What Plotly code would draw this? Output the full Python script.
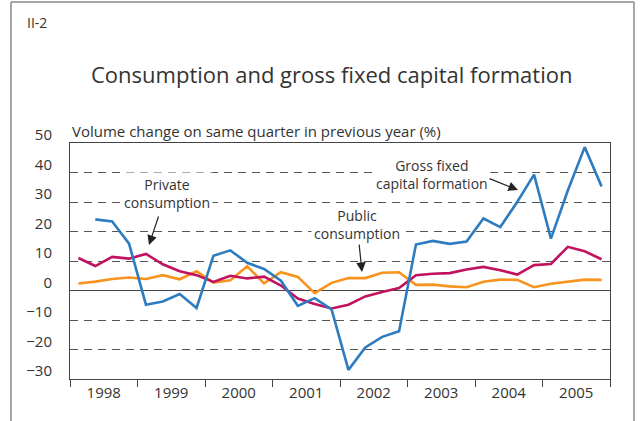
import plotly.graph_objects as go

years = [1998, 1999, 2000, 2001, 2002, 2003, 2004, 2005]
quarters = [f"{y}Q{q}" for y in years for q in range(1, 5)]

gross_fixed = [
    None, 24.1, 23.4, 15.9,
    -4.8, -3.7, -1.2, -5.9,
    11.8, 13.6, 9.4, 7.3,
    3.3, -5.2, -2.6, -6.4,
    -26.9, -19.3, -15.7, -13.8,
    15.6, 16.8, 15.8, 16.6,
    24.4, 21.5, 30.0, 39.3,
    17.6, 33.9, 48.6, 35.3,
]
private = [
    11.0, 8.3, 11.4, 10.8,
    12.4, 8.9, 6.5, 5.2,
    2.9, 5.0, 4.1, 4.7,
    1.7, -2.7, -4.6, -6.1,
    -4.8, -2.0, -0.5, 0.8,
    5.2, 5.7, 5.9, 7.1,
    8.0, 6.9, 5.4, 8.6,
    9.0, 14.8, 13.3, 10.6,
]
public = [
    2.4, 3.0, 3.9, 4.4,
    3.9, 5.2, 3.8, 6.5,
    2.7, 3.5, 8.2, 2.4,
    6.2, 4.6, -0.9, 2.6,
    4.2, 4.2, 6.0, 6.2,
    1.9, 2.0, 1.4, 1.1,
    3.0, 3.7, 3.6, 1.1,
    2.3, 3.0, 3.7, 3.6,
]
y_ticks = [-30, -20, -10, 0, 10, 20, 30, 40, 50]


def quarter_pos(label):
    y, q = label.split("Q")
    return int(y) + (int(q) - 0.5) / 4


x = [quarter_pos(q) for q in quarters]

W, H = 640, 421
L, R, T, B = 70, 30, 143, 42


def px_x(p):
    return (p - L) / (W - L - R)


def px_y(p):
    return 1 - (p - T) / (H - T - B)


FONT = "Open Sans"
INK = "#333333"

fig = go.Figure()
fig.add_trace(go.Scatter(x=x, y=public, mode="lines", line=dict(color="#f7931e", width=2.6)))
fig.add_trace(go.Scatter(x=x, y=private, mode="lines", line=dict(color="#c0125e", width=2.6)))
fig.add_trace(go.Scatter(x=x, y=gross_fixed, mode="lines", line=dict(color="#2e7cc0", width=2.6)))

fig.update_layout(
    width=W, height=H,
    margin=dict(l=L, r=R, t=T, b=B),
    paper_bgcolor="white", plot_bgcolor="white",
    showlegend=False,
    font=dict(family=FONT, size=15, color=INK),
)
fig.update_xaxes(
    range=[1998, 2006], automargin=False,
    tickvals=[y + 0.5 for y in years], ticktext=[str(y) for y in years],
    ticks="", showgrid=False,
    showline=True, linecolor="#444", linewidth=1, mirror=True,
    minor=dict(tickvals=years + [2006], ticks="outside", ticklen=7, tickcolor="#444", showgrid=False),
    tickfont=dict(size=15, color=INK), zeroline=False,
)
fig.update_yaxes(
    range=[-30, 50], tickvals=y_ticks, automargin=False,
    showgrid=True, gridcolor="#555", gridwidth=1, griddash="8px,6px",
    zeroline=True, zerolinecolor="#444", zerolinewidth=1,
    showline=True, linecolor="#444", linewidth=1, mirror=True,
    ticks="", ticklabelstandoff=14, ticklabelshift=-8,
    tickfont=dict(size=15, color=INK),
)

frame = dict(type="line", xref="paper", yref="paper", line=dict(color="#8a8a8a", width=1.5))
fig.add_shape(x0=px_x(11), x1=px_x(11), y0=px_y(2), y1=px_y(421), **frame)
fig.add_shape(x0=px_x(11), x1=px_x(634), y0=px_y(2), y1=px_y(2), **frame)
fig.add_shape(x0=px_x(634), x1=px_x(634), y0=px_y(2), y1=px_y(421), **frame)

texts = [
    ("II-2", 24, 22, "left", 14, None),
    ("Consumption and gross fixed capital formation", 331, 74, "center", 22, None),
    ("Volume change on same quarter in previous year (%)", 69, 131, "left", 15, None),
    ("Private<br>consumption", 167, 193, "center", 14, "white"),
    ("Public<br>consumption", 357, 224, "center", 14, "white"),
    ("Gross fixed<br>capital formation", 432, 174, "center", 14, "white"),
]
for txt, tx, ty, anchor, size, bg in texts:
    fig.add_annotation(
        text=txt, x=px_x(tx), y=px_y(ty), xref="paper", yref="paper",
        xanchor=anchor, yanchor="middle", showarrow=False, bgcolor=bg, borderpad=2,
        font=dict(size=size, color=INK, family=FONT), align="center",
    )

arrows = [((159, 215), (149, 245)), ((359, 243), (362, 272)), ((488, 178), (518, 190))]
for (x0, y0), (x1, y1) in arrows:
    fig.add_annotation(
        x=px_x(x1), y=px_y(y1), xref="paper", yref="paper",
        ax=x0 - x1, ay=y0 - y1, axref="pixel", ayref="pixel",
        text="", showarrow=True, arrowhead=2, arrowsize=1.6, arrowwidth=1.2, arrowcolor="#222",
    )

# the page's default body margin would push the figure 8px down and right
fig.write_html(
    "out.html",
    config={"displayModeBar": False},
    post_script="document.body.style.margin = '0';",
)
